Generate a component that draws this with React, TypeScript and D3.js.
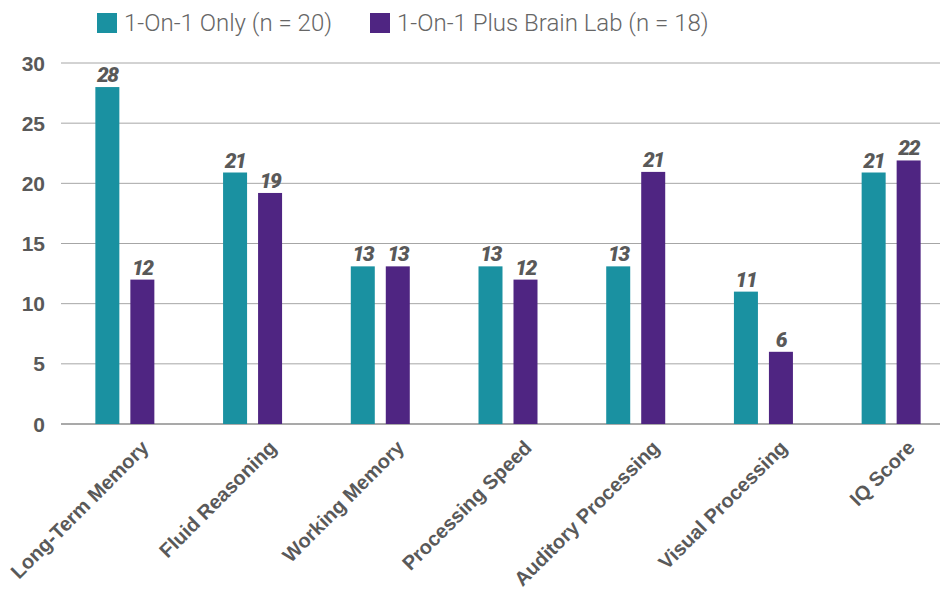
import React from 'react';
import * as d3 from 'd3';

const categories = [
  'Long-Term Memory',
  'Fluid Reasoning',
  'Working Memory',
  'Processing Speed',
  'Auditory Processing',
  'Visual Processing',
  'IQ Score',
];
const oneOnOne = [28, 20.9, 13.1, 13.1, 13.1, 11, 20.9];
const brainLab = [12, 19.2, 13.1, 12, 20.95, 6, 21.9];
const seriesNames = ['1-On-1 Only (n = 20)', '1-On-1 Plus Brain Lab (n = 18)'];
const seriesColors = ['#1a91a1', '#4f2582'];
const yTicks = [0, 5, 10, 15, 20, 25, 30];

const W = 940;
const H = 597;

export default function App() {
  // plot area
  const left = 61, right = 955, top = 63, bottom = 424;

  const x = d3.scaleBand().domain(categories).range([left, right]);
  const y = d3.scaleLinear().domain([0, 30]).range([bottom, top]);

  const barW = 24;
  const offs = [-29.5, 5.5];
  const series = [oneOnOne, brainLab];
  const textColor = '#595959';

  return (
    <svg width={W} height={H} style={{ position: 'absolute', left: 0, top: 0, background: '#fff' }}>
      {/* gridlines */}
      {yTicks.map((t) => (
        <line key={t} x1={left} x2={W} y1={y(t)} y2={y(t)} stroke={t === 0 ? '#8c8c8c' : '#a6a6a6'} strokeWidth={t === 0 ? 1.5 : 1} />
      ))}
      {/* y tick labels */}
      {yTicks.map((t) => (
        <text key={'yl' + t} x={45} y={y(t)} dy="0.36em" textAnchor="end"
          fontFamily="'Liberation Sans', Arial, sans-serif" fontWeight={700} fontSize={21} fill={textColor}>
          {t}
        </text>
      ))}
      {/* bars */}
      {series.map((vals, si) =>
        vals.map((v, i) => {
          const cx = (x(categories[i]) as number) + x.bandwidth() / 2;
          const bx = cx + offs[si];
          return (
            <g key={si + '-' + i}>
              <rect x={bx} y={y(v)} width={barW} height={bottom - y(v)} fill={seriesColors[si]} />
              <text x={bx + barW / 2} y={y(v) - 5} textAnchor="middle"
                fontFamily="Roboto, sans-serif" fontWeight={900} fontStyle="italic" fontSize={21}
                letterSpacing={-1.5} fill={textColor}>
                {Math.round(v)}
              </text>
            </g>
          );
        })
      )}
      {/* category labels */}
      {categories.map((c) => {
        const cx = (x(c) as number) + x.bandwidth() / 2;
        const lx = cx + 25, ly = 449;
        return (
          <text key={c} x={lx} y={ly} textAnchor="end" transform={`rotate(-45 ${lx} ${ly})`}
            fontFamily="'Liberation Sans', Arial, sans-serif" fontWeight={700} fontSize={20} fill={textColor}>
            {c}
          </text>
        );
      })}
      {/* legend */}
      <rect x={97} y={13} width={20} height={20} fill={seriesColors[0]} />
      <text x={124} y={23} dy="0.35em" fontFamily="Roboto, sans-serif" fontWeight={300} fontSize={24} fill="#666">
        {seriesNames[0]}
      </text>
      <rect x={370} y={13} width={20} height={20} fill={seriesColors[1]} />
      <text x={397} y={23} dy="0.35em" fontFamily="Roboto, sans-serif" fontWeight={300} fontSize={24} fill="#666">
        {seriesNames[1]}
      </text>
    </svg>
  );
}
